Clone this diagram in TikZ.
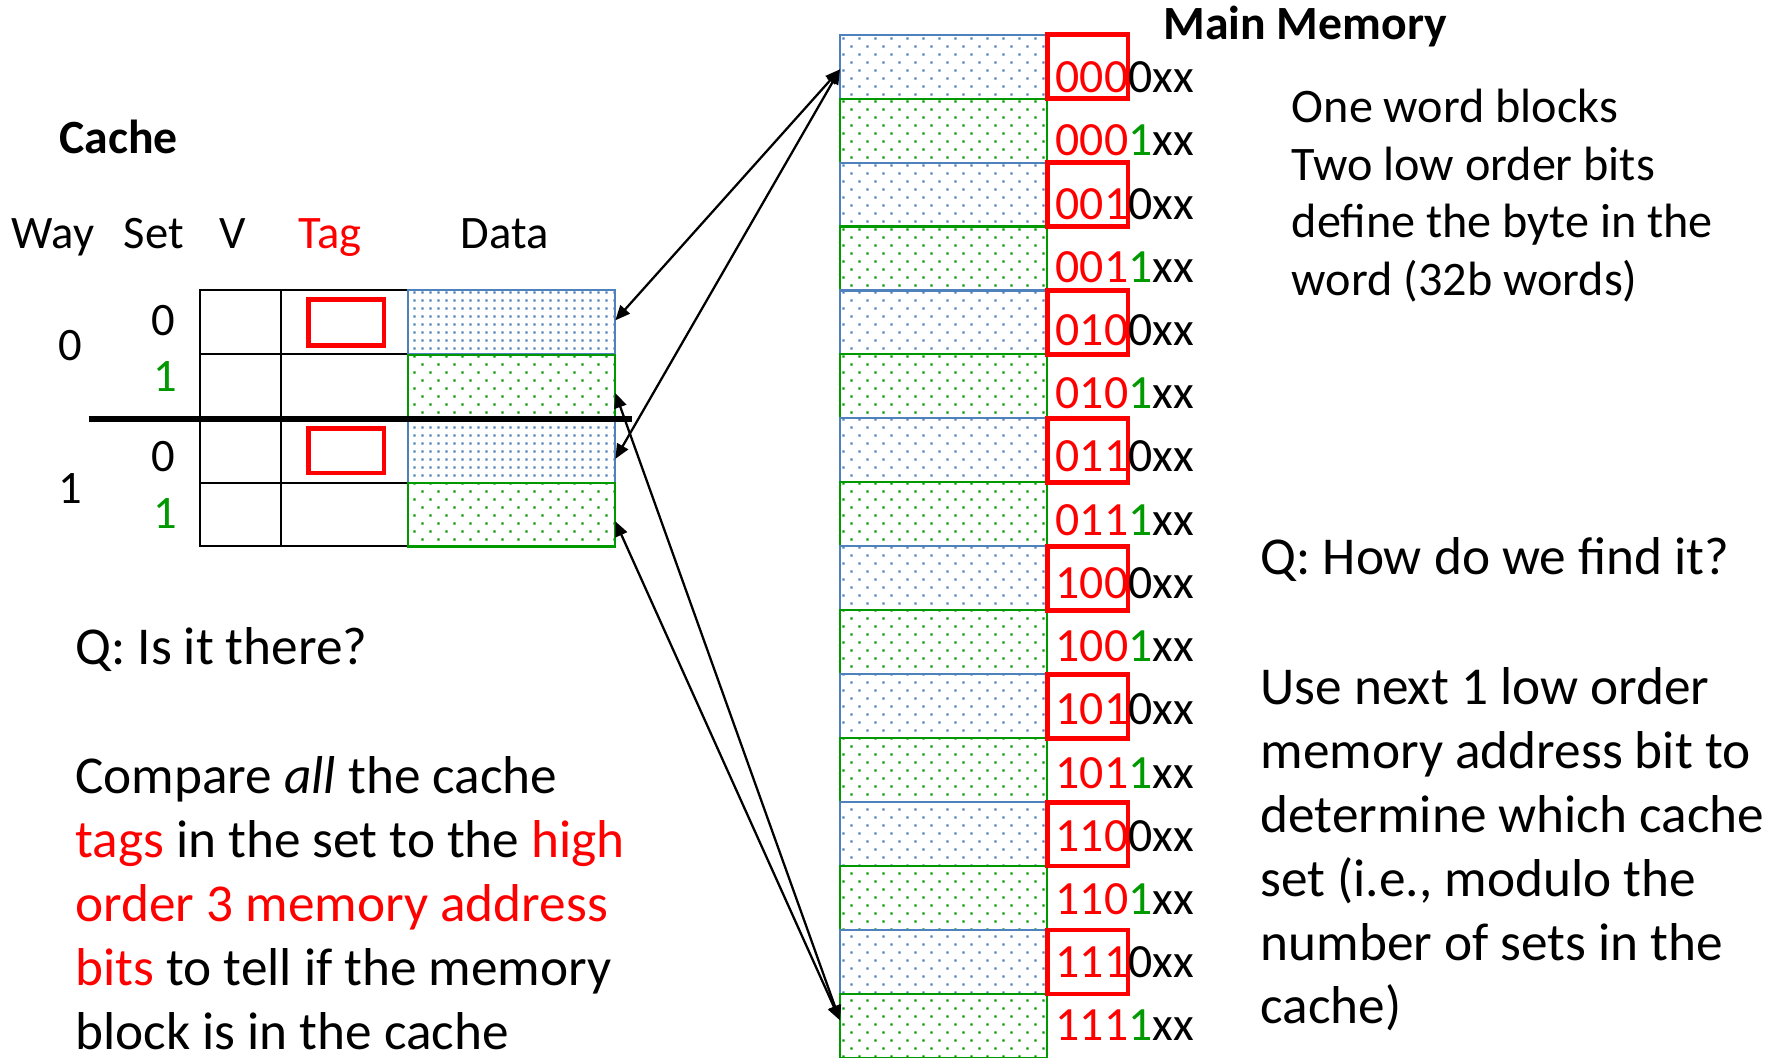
\documentclass[tikz,border=0pt]{standalone}
\usepackage{fontspec}
\setmainfont{Carlito}
\usetikzlibrary{
  arrows.meta,
  patterns
}

\definecolor{cellblue}{RGB}{79,129,189}
\definecolor{cellgreen}{RGB}{0,153,0}
\definecolor{tagred}{RGB}{255,0,0}

\pgfdeclarepatternformonly{sparsedots}{\pgfqpoint{0pt}{0pt}}{\pgfqpoint{7pt}{7pt}}{\pgfqpoint{7pt}{7pt}}{%
  \pgfpathrectangle{\pgfqpoint{0.2pt}{0.2pt}}{\pgfqpoint{1pt}{1pt}}%
  \pgfpathrectangle{\pgfqpoint{3.7pt}{3.7pt}}{\pgfqpoint{1pt}{1pt}}%
  \pgfusepath{fill}}
\pgfdeclarepatternformonly{densedots}{\pgfqpoint{0pt}{0pt}}{\pgfqpoint{3.5pt}{3.5pt}}{\pgfqpoint{3.5pt}{3.5pt}}{%
  \pgfpathrectangle{\pgfqpoint{0.2pt}{0.2pt}}{\pgfqpoint{1pt}{1pt}}%
  \pgfusepath{fill}}

\tikzset{
  cell/.style={inner sep=0pt, outer sep=0pt, line width=0.9pt,
    minimum width=91.25pt, minimum height=28.15pt},
  bluecell/.style={cell, draw=cellblue, pattern=sparsedots, pattern color=cellblue},
  greencell/.style={cell, draw=cellgreen, pattern=sparsedots, pattern color=cellgreen},
  grid/.style={line width=0.9pt},
  tagbox/.style={draw=tagred, line width=2.1pt},
  lbl/.style={inner sep=0pt, font=\fontsize{20.5}{24}\selectfont},
  addr/.style={inner sep=0pt, anchor=base west, font=\fontsize{21}{25}\selectfont},
  title/.style={inner sep=0pt, anchor=base west, font=\fontsize{21}{25}\selectfont\bfseries},
  note/.style={inner sep=0pt, anchor=base west, align=left, font=\fontsize{23.45}{28.15}\selectfont},
  smallnote/.style={note, font=\fontsize{21.2}{25.5}\selectfont},
  link/.style={line width=1pt, >={Triangle[length=6.5pt,width=5.5pt]}, <->}
}

\begin{document}
\begin{tikzpicture}[x=0.5pt, y=-0.5pt]
  \useasboundingbox (0,0) rectangle (1568,931);

  % cache
  \node[title] (cachettl) at (52,135.5) {Cache};
  \node[lbl, anchor=base west] (hway) at (10,218.6) {Way};
  \node[lbl, anchor=base west] (hset) at (108.5,218.6) {Set};
  \node[lbl, anchor=base west] (hv) at (192.5,218.6) {V};
  \node[lbl, anchor=base west, text=tagred] (htag) at (262.5,218.6) {Tag};
  \node[lbl, anchor=base west] (hdata) at (405,218.6) {Data};

  \node[lbl, anchor=base] (w0) at (62,317) {0};
  \node[lbl, anchor=base] (w1) at (62,443) {1};
  \node[lbl, anchor=base] (s0) at (143.5,295) {0};
  \node[lbl, anchor=base, text=cellgreen] (s1) at (145.5,344.8) {1};
  \node[lbl, anchor=base] (s2) at (143.5,415.3) {0};
  \node[lbl, anchor=base, text=cellgreen] (s3) at (145.5,465.2) {1};

  \draw[grid] (176,255) rectangle (359,481);
  \draw[grid] (247,255) -- (247,481);
  \draw[grid] (176,312) -- (359,312);
  \draw[grid] (176,369) -- (359,369);
  \draw[grid] (176,425) -- (359,425);

  \node[bluecell, pattern=densedots] (d0) at (450.5,283.5) {};
  \node[greencell] (d1) at (450.5,340.5) {};
  \node[bluecell, pattern=densedots] (d2) at (450.5,397) {};
  \node[greencell] (d3) at (450.5,453) {};

  \draw[line width=2.35pt] (78,369) -- (556,369);
  \draw[tagbox] (271.5,264) rectangle (338,304);
  \draw[tagbox] (271.5,377) rectangle (338,416.5);

  % main memory
  \node[title] (mainmem) at (1024,35.2) {Main Memory};
  \foreach \k in {0,...,7} {
    \pgfmathtruncatemacro\ra{2*\k}
    \pgfmathtruncatemacro\rb{2*\k+1}
    \node[bluecell] (m\ra) at (830.75,{58.65+112.62*\k}) {};
    \node[greencell] (m\rb) at (830.75,{114.96+112.62*\k}) {};
  }
  \foreach \hi [count=\k from 0] in {000,001,010,011,100,101,110,111} {
    \pgfmathtruncatemacro\ra{2*\k}
    \pgfmathtruncatemacro\rb{2*\k+1}
    \draw[tagbox] (922,{30.5+112.62*\k}) rectangle (993,{86.8+112.62*\k});
    \node[addr] (a\ra) at (929,{81.6+111.3*\k}) {\textcolor{tagred}{\hi}0xx};
    \node[addr] (a\rb) at (929,{137.25+111.3*\k}) {\textcolor{tagred}{\hi}\textcolor{cellgreen}{1}xx};
  }

  \draw[link] ([yshift=-1.2pt]m0.west) -- ([yshift=0.75pt]d0.east);
  \draw[link] ([yshift=-1.2pt]m0.west) -- ([yshift=-3.5pt]d2.east);
  \draw[link] ([yshift=2.5pt]m15.west) -- ([yshift=-2.75pt]d1.east);
  \draw[link] ([yshift=2.5pt]m15.west) -- ([yshift=-3pt]d3.east);

  % notes (anchored on the last line)
  \node[smallnote] (blocks) at (1137,260.5) {One word blocks\\
    Two low order bits\\
    define the byte in the\\
    word (32b words)};
  \node[note] (qfind) at (1109.5,901.5) {Q: How do we find it?\\[28.8pt]
    Use next 1 low order\\
    memory address bit to\\
    determine which cache\\
    set (i.e., modulo the\\
    number of sets in the\\
    cache)};
  \node[note] (qthere) at (66,924) {Q: Is it there?\\[28.8pt]
    Compare \textit{all} the cache\\
    \textcolor{tagred}{tags} in the set to the \textcolor{tagred}{high}\\
    \textcolor{tagred}{order 3 memory address}\\
    \textcolor{tagred}{bits} to tell if the memory\\
    block is in the cache};
\end{tikzpicture}
\end{document}
